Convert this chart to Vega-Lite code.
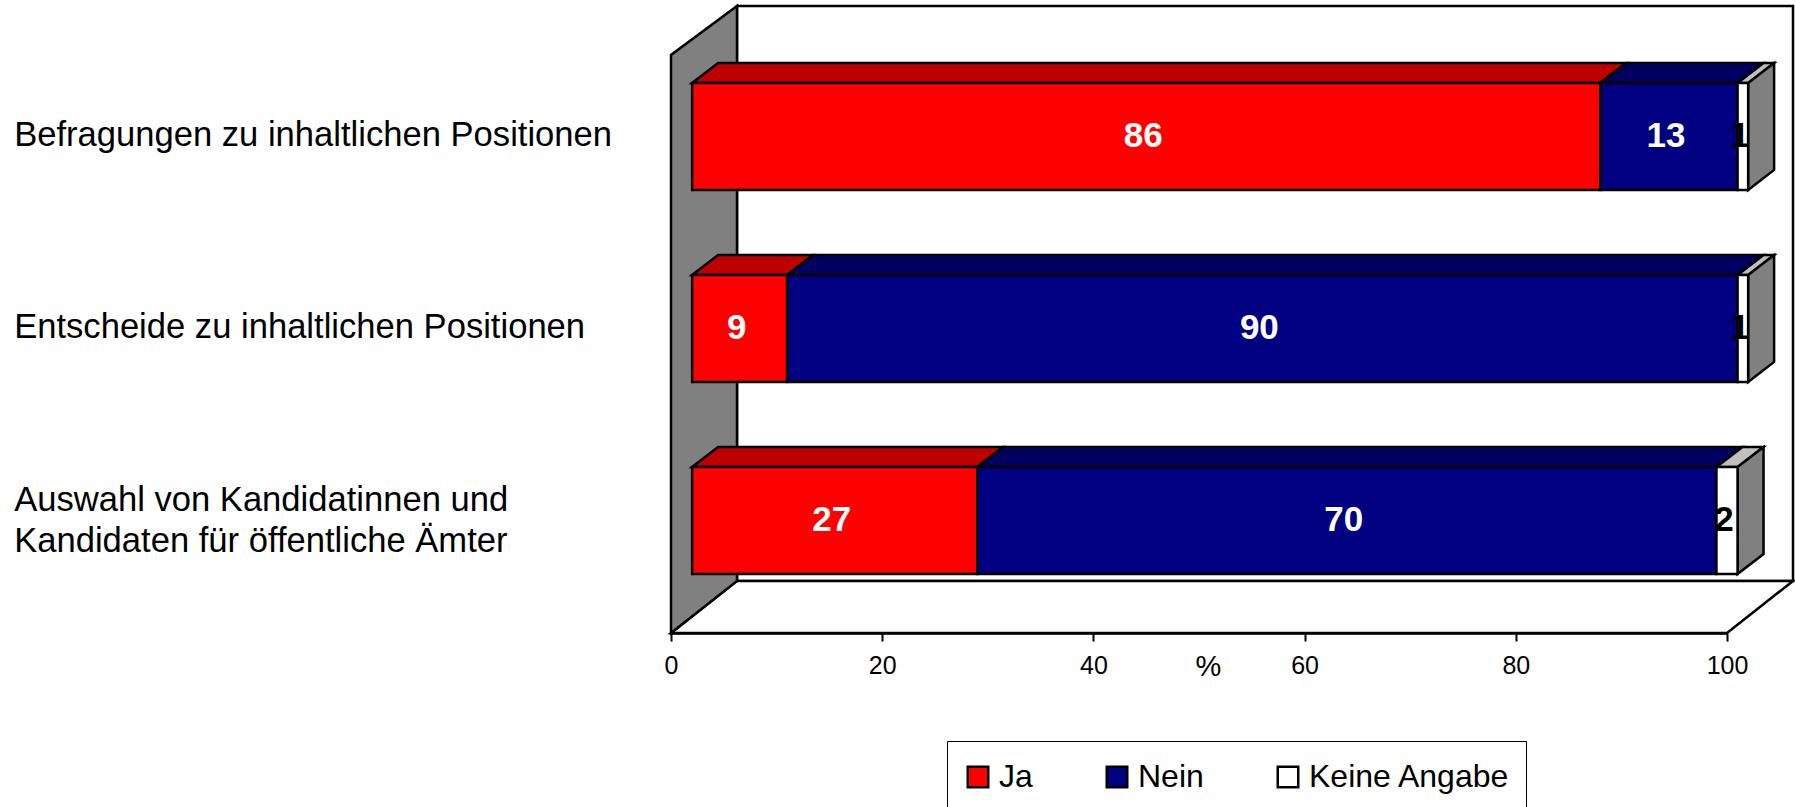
{
"$schema":"https://vega.github.io/schema/vega-lite/v6.json",
"width":1056,"height":627,
"autosize":{"type":"none"},
"padding":{"left":671,"top":6,"right":68,"bottom":174},
"background":"white",
"config":{"view":{"stroke":null},"font":"Liberation Sans"},
"datasets":{"rows":[
{"category":"Befragungen zu inhaltlichen Positionen","series":"Ja","value":86},
{"category":"Befragungen zu inhaltlichen Positionen","series":"Nein","value":13},
{"category":"Befragungen zu inhaltlichen Positionen","series":"Keine Angabe","value":1},
{"category":"Entscheide zu inhaltlichen Positionen","series":"Ja","value":9},
{"category":"Entscheide zu inhaltlichen Positionen","series":"Nein","value":90},
{"category":"Entscheide zu inhaltlichen Positionen","series":"Keine Angabe","value":1},
{"category":"Auswahl von Kandidatinnen und\nKandidaten für öffentliche Ämter","series":"Ja","value":27},
{"category":"Auswahl von Kandidatinnen und\nKandidaten für öffentliche Ämter","series":"Nein","value":70},
{"category":"Auswahl von Kandidatinnen und\nKandidaten für öffentliche Ämter","series":"Keine Angabe","value":2}
]},
"data":{"name":"rows"},
"transform":[
{"calculate":"indexof(['Ja','Nein','Keine Angabe'],datum.series)","as":"order"},
{"stack":"value","groupby":["category"],"sort":[{"field":"order","order":"ascending"}],"as":["s0","s1"]},
{"calculate":"indexof(['Befragungen zu inhaltlichen Positionen','Entscheide zu inhaltlichen Positionen'],datum.category)","as":"i"},
{"calculate":"datum.i<0?0.586:2.586-datum.i","as":"pos"},
{"calculate":"datum.pos-0.2786","as":"yb"},
{"calculate":"datum.pos+0.2786","as":"yt"},
{"calculate":"datum.s0+2","as":"xa"},
{"calculate":"datum.s1+2","as":"xb"},
{"calculate":"(datum.xa+datum.xb)/2","as":"xm"},
{"calculate":"datum.i<0?datum.pos+0.102:datum.pos","as":"lp"}
],
"layer":[
{"data":{"values":[{"a":6.25,"b":106.25,"lo":0.271,"hi":3.2656}]},
 "mark":{"type":"rect","fill":"white","stroke":"black","strokeWidth":2.5},
 "encoding":{
  "x":{"field":"a","type":"quantitative","scale":{"domain":[0,100],"nice":false,"zero":false},
   "axis":{"values":[0,20,40,60,80,100],"grid":false,"title":"%","titleFontSize":29,"titleFontWeight":"normal","titleColor":"black","titleFont":"Liberation Sans","titleX":537,"titleY":33,"titleAlign":"center","titleBaseline":"middle","labelFont":"Liberation Sans","labelFontSize":25,"labelColor":"black","labelPadding":12,"labelFlush":false,"labelOverlap":false,"domainColor":"black","domainWidth":2.5,"tickColor":"black","tickWidth":2,"tickSize":8}},
  "x2":{"field":"b"},
  "y":{"field":"lo","type":"quantitative","scale":{"domain":[0,3.2656],"nice":false,"zero":false},"axis":null},
  "y2":{"field":"hi"}}},
{"data":{"values":[{"y":0,"a":0,"b":100},{"y":0.271,"a":6.25,"b":106.25}]},
 "mark":{"type":"area","orient":"horizontal","fill":"white","stroke":"black","strokeWidth":2.5},
 "encoding":{
  "y":{"field":"y","type":"quantitative","scale":{"domain":[0,3.2656],"nice":false,"zero":false},"axis":null},
  "x":{"field":"a","type":"quantitative","scale":{"domain":[0,100],"nice":false,"zero":false},"stack":null},
  "x2":{"field":"b"}}},
{"data":{"values":[{"x":0,"lo":0,"hi":3.0104},{"x":6.25,"lo":0.271,"hi":3.2656}]},
 "mark":{"type":"area","orient":"vertical","fill":"#808080","stroke":"black","strokeWidth":2.5},
 "encoding":{
  "x":{"field":"x","type":"quantitative","scale":{"domain":[0,100],"nice":false,"zero":false}},
  "y":{"field":"lo","type":"quantitative","scale":{"domain":[0,3.2656],"nice":false,"zero":false},"axis":null,"stack":null},
  "y2":{"field":"hi"}}},
{"transform":[
  {"calculate":"[0,1]","as":"v"},{"flatten":["v"]},
  {"calculate":"datum.yt+datum.v*0.104","as":"fy"},
  {"calculate":"datum.xa+datum.v*2.46","as":"f0"},
  {"calculate":"datum.xb+datum.v*2.46","as":"f1"}],
 "mark":{"type":"area","orient":"horizontal","stroke":"black","strokeWidth":2.5},
 "encoding":{
  "y":{"field":"fy","type":"quantitative","scale":{"domain":[0,3.2656],"nice":false,"zero":false},"axis":null},
  "x":{"field":"f0","type":"quantitative","scale":{"domain":[0,100],"nice":false,"zero":false},"stack":null},
  "x2":{"field":"f1"},
  "detail":{"field":"category"},
  "color":{"field":"series","type":"nominal","scale":{"domain":["Ja","Nein","Keine Angabe"],"range":["#BF0000","#000060","#C0C0C0"]},"legend":null}}},
{"transform":[
  {"filter":"datum.series==='Keine Angabe'"},
  {"calculate":"[0,1]","as":"v"},{"flatten":["v"]},
  {"calculate":"datum.xb+datum.v*2.46","as":"fx"},
  {"calculate":"datum.yb+datum.v*0.104","as":"f0"},
  {"calculate":"datum.yt+datum.v*0.104","as":"f1"}],
 "mark":{"type":"area","orient":"vertical","fill":"#808080","stroke":"black","strokeWidth":2.5},
 "encoding":{
  "x":{"field":"fx","type":"quantitative","scale":{"domain":[0,100],"nice":false,"zero":false}},
  "y":{"field":"f0","type":"quantitative","scale":{"domain":[0,3.2656],"nice":false,"zero":false},"axis":null,"stack":null},
  "y2":{"field":"f1"},
  "detail":{"field":"category"}}},
{"mark":{"type":"rect","stroke":"black","strokeWidth":2.5,"opacity":1},
 "encoding":{
  "x":{"field":"xa","type":"quantitative","scale":{"domain":[0,100],"nice":false,"zero":false}},
  "x2":{"field":"xb"},
  "y":{"field":"yb","type":"quantitative","scale":{"domain":[0,3.2656],"nice":false,"zero":false},"axis":null},
  "y2":{"field":"yt"},
  "color":{"field":"series","type":"nominal","sort":["Ja","Nein","Keine Angabe"],
   "scale":{"domain":["Ja","Nein","Keine Angabe"],"range":["#FF0000","#000080","#FFFFFF"]},
   "legend":{"orient":"none","legendX":276,"legendY":735,"title":" ","titleFontSize":5,"titlePadding":0,"columns":3,"direction":"horizontal","gridAlign":"each","columnPadding":68,"padding":15,"strokeColor":"black","fillColor":"white","symbolType":"square","symbolSize":420,"symbolStrokeColor":"black","symbolStrokeWidth":2.5,"symbolOpacity":1,"labelFont":"Liberation Sans","labelFontSize":32,"labelColor":"black","labelOffset":5,"labelLimit":400}}}},
{"mark":{"type":"text","font":"Liberation Sans","fontSize":35,"fontWeight":"bold","dx":-3,"baseline":"middle","align":"center"},
 "encoding":{
  "x":{"field":"xm","type":"quantitative","scale":{"domain":[0,100],"nice":false,"zero":false}},
  "y":{"field":"pos","type":"quantitative","scale":{"domain":[0,3.2656],"nice":false,"zero":false},"axis":null},
  "text":{"field":"value","type":"quantitative"},
  "color":{"condition":{"test":"datum.series==='Keine Angabe'","value":"black"},"value":"white"}}},
{"transform":[{"filter":"datum.series==='Ja'"}],
 "mark":{"type":"text","font":"Liberation Sans","fontSize":34.6,"align":"left","baseline":"middle","lineBreak":"\n","lineHeight":41,"color":"black"},
 "encoding":{
  "x":{"datum":-62.2,"type":"quantitative","scale":{"domain":[0,100],"nice":false,"zero":false}},
  "y":{"field":"lp","type":"quantitative","scale":{"domain":[0,3.2656],"nice":false,"zero":false},"axis":null},
  "text":{"field":"category","type":"nominal"}}}
],
"resolve":{"scale":{"color":"independent"}}
}
